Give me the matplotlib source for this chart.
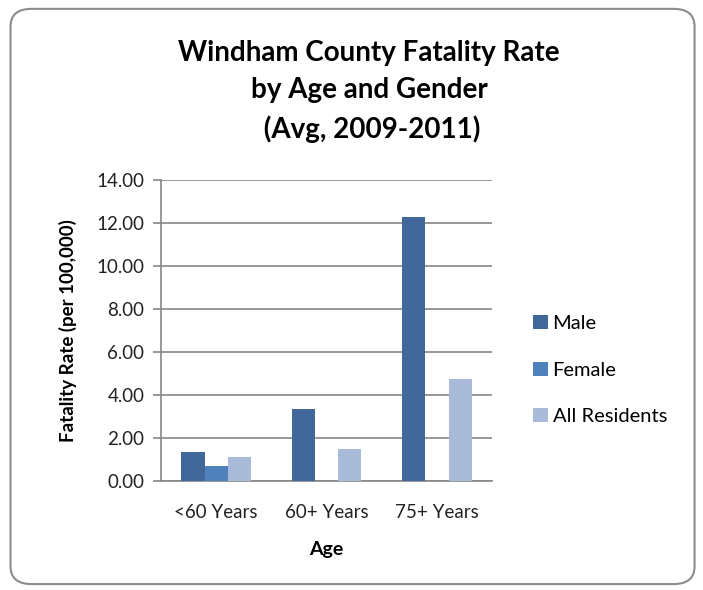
import matplotlib
matplotlib.use("Agg")
import matplotlib.pyplot as plt
from matplotlib.patches import FancyBboxPatch
import numpy as np

categories = ["<60 Years", "60+ Years", "75+ Years"]
male = [1.35, 3.33, 12.29]
female = [0.70, 0.0, 0.0]
all_res = [1.09, 1.46, 4.73]
series_names = ["Male", "Female", "All Residents"]
yticks = [0, 2, 4, 6, 8, 10, 12, 14]

plt.rcParams['font.family'] = ['Lato', 'DejaVu Sans']

fig = plt.figure(figsize=(7.03, 5.90), dpi=100)
border = FancyBboxPatch((0.015, 0.01), 0.973, 0.975, boxstyle="round,pad=0,rounding_size=0.03",
                        transform=fig.transFigure, facecolor="none", edgecolor="#8c8c8c",
                        linewidth=1.5, zorder=-1)
fig.patches.append(border)

ax = fig.add_axes([0.229, 0.185, 0.471, 0.51])
ax.patch.set_alpha(0)
x = np.arange(len(categories))
w = 0.21
colors = ["#416898", "#4F81BD", "#AABBD9"]
for i, (vals, c, n) in enumerate(zip([male, female, all_res], colors, series_names)):
    ax.bar(x + (i - 1) * w, vals, w, color=c, label=n, zorder=3)

ax.set_xlim(-0.5, 2.5)
ax.set_ylim(0, 14)
ax.set_yticks(yticks)
ax.set_yticklabels([f"{v:.2f}" for v in yticks], fontsize=13.5, color="#222222")
ax.set_xticks(x)
ax.set_xticklabels(categories, fontsize=13.5, color="#222222")
ax.tick_params(axis='x', length=0, pad=17)
ax.tick_params(axis='y', length=6, color="#868686", width=1.2, pad=6)
ax.grid(axis='y', color="#868686", linewidth=1.2, zorder=0)
for s in ["top", "right"]:
    ax.spines[s].set_visible(False)
for s in ["left", "bottom"]:
    ax.spines[s].set_color("#868686")
    ax.spines[s].set_linewidth(1.2)

ax.set_xlabel("Age", fontsize=14, fontweight="bold", labelpad=14)
ax.set_ylabel("Fatality Rate (per 100,000)", fontsize=13.5, fontweight="bold", labelpad=14)

fig.text(0.525, 0.845, "Windham County Fatality Rate\nby Age and Gender\n (Avg, 2009-2011)",
         ha="center", va="center", fontsize=20, fontweight="bold", linespacing=1.55)

ax.legend(loc="center left", bbox_to_anchor=(1.07, 0.368), frameon=False, fontsize=14.5,
          handlelength=0.7, handleheight=0.7, handletextpad=0.25, labelspacing=1.45)

fig.savefig("out.png", dpi=100)
